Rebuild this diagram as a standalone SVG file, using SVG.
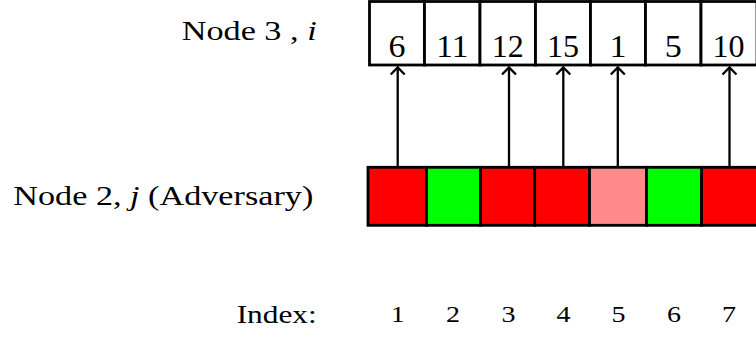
<svg xmlns="http://www.w3.org/2000/svg" width="756" height="339" viewBox="0 0 756 339">
<style>
.lbl{font-family:"Liberation Serif","Times New Roman",serif;fill:#000}
.box{stroke:#000;stroke-width:2.8}
.top{fill:#fff}
.red{fill:#ff0000}
.grn{fill:#00ff00}
.pink{fill:#ff8a8a}
.arr{stroke:#000;stroke-width:2.3;fill:none}
.num{font-size:32px;text-anchor:middle}
.idx{font-size:24px;text-anchor:middle}
</style>
<defs>
<marker id="ah" markerUnits="userSpaceOnUse" markerWidth="20" markerHeight="20" refX="0" refY="0" viewBox="-10 -10 20 20" orient="auto">
<path d="M -7 -7 L 0 0 L -7 7" fill="none" stroke="#000" stroke-width="2.3"/>
</marker>
</defs>
<g id="label-node3"><text class="lbl" x="181.7" y="40" font-size="27" textLength="135" lengthAdjust="spacingAndGlyphs">Node 3 , <tspan font-style="italic">i</tspan></text></g>
<g id="label-node2"><text class="lbl" x="13.3" y="205" font-size="27" textLength="300" lengthAdjust="spacingAndGlyphs">Node 2, <tspan font-style="italic">j</tspan> (Adversary)</text></g>
<g id="label-index"><text class="lbl" x="236.7" y="323" font-size="25" textLength="80" lengthAdjust="spacingAndGlyphs">Index:</text></g>
<g id="top-row">
<g id="t1"><rect class="box top" x="369.5" y="1.5" width="55" height="63.5"/><text class="lbl num" x="397" y="56.5" textLength="17" lengthAdjust="spacingAndGlyphs">6</text></g>
<g id="t2"><rect class="box top" x="424.5" y="1.5" width="55.5" height="63.5"/><text class="lbl num" x="452.3" y="56.5" textLength="32" lengthAdjust="spacingAndGlyphs">11</text></g>
<g id="t3"><rect class="box top" x="480" y="1.5" width="55.5" height="63.5"/><text class="lbl num" x="507.8" y="56.5" textLength="32" lengthAdjust="spacingAndGlyphs">12</text></g>
<g id="t4"><rect class="box top" x="535.5" y="1.5" width="55" height="63.5"/><text class="lbl num" x="563" y="56.5" textLength="32" lengthAdjust="spacingAndGlyphs">15</text></g>
<g id="t5"><rect class="box top" x="590.5" y="1.5" width="55" height="63.5"/><text class="lbl num" x="618" y="56.5" textLength="17" lengthAdjust="spacingAndGlyphs">1</text></g>
<g id="t6"><rect class="box top" x="645.5" y="1.5" width="55.5" height="63.5"/><text class="lbl num" x="673.3" y="56.5" textLength="17" lengthAdjust="spacingAndGlyphs">5</text></g>
<g id="t7"><rect class="box top" x="701" y="1.5" width="56" height="63.5"/><text class="lbl num" x="728.5" y="56.5" textLength="32" lengthAdjust="spacingAndGlyphs">10</text></g>
</g>
<g id="bottom-row">
<rect id="b1" class="box red" x="368" y="167.3" width="58.5" height="58"/>
<rect id="b2" class="box grn" x="426.5" y="167.3" width="54" height="58"/>
<rect id="b3" class="box red" x="480.5" y="167.3" width="54.2" height="58"/>
<rect id="b4" class="box red" x="534.7" y="167.3" width="54.8" height="58"/>
<rect id="b5" class="box pink" x="589.5" y="167.3" width="57" height="58"/>
<rect id="b6" class="box grn" x="646.5" y="167.3" width="55" height="58"/>
<rect id="b7" class="box red" x="701.5" y="167.3" width="56" height="58"/>
</g>
<g id="connectors">
<line class="arr" x1="397.7" y1="166" x2="397.7" y2="67.5" marker-end="url(#ah)"/>
<line class="arr" x1="509" y1="166" x2="509" y2="67.5" marker-end="url(#ah)"/>
<line class="arr" x1="563.3" y1="166" x2="563.3" y2="67.5" marker-end="url(#ah)"/>
<line class="arr" x1="617.8" y1="166" x2="617.8" y2="67.5" marker-end="url(#ah)"/>
<line class="arr" x1="729.5" y1="166" x2="729.5" y2="67.5" marker-end="url(#ah)"/>
</g>
<g id="index-numbers">
<text class="lbl idx" x="397.7" y="322" textLength="14" lengthAdjust="spacingAndGlyphs">1</text>
<text class="lbl idx" x="453" y="322" textLength="14" lengthAdjust="spacingAndGlyphs">2</text>
<text class="lbl idx" x="508.5" y="322" textLength="14" lengthAdjust="spacingAndGlyphs">3</text>
<text class="lbl idx" x="563.5" y="322" textLength="14" lengthAdjust="spacingAndGlyphs">4</text>
<text class="lbl idx" x="618.5" y="322" textLength="14" lengthAdjust="spacingAndGlyphs">5</text>
<text class="lbl idx" x="674" y="322" textLength="14" lengthAdjust="spacingAndGlyphs">6</text>
<text class="lbl idx" x="729" y="322" textLength="14" lengthAdjust="spacingAndGlyphs">7</text>
</g>
</svg>
